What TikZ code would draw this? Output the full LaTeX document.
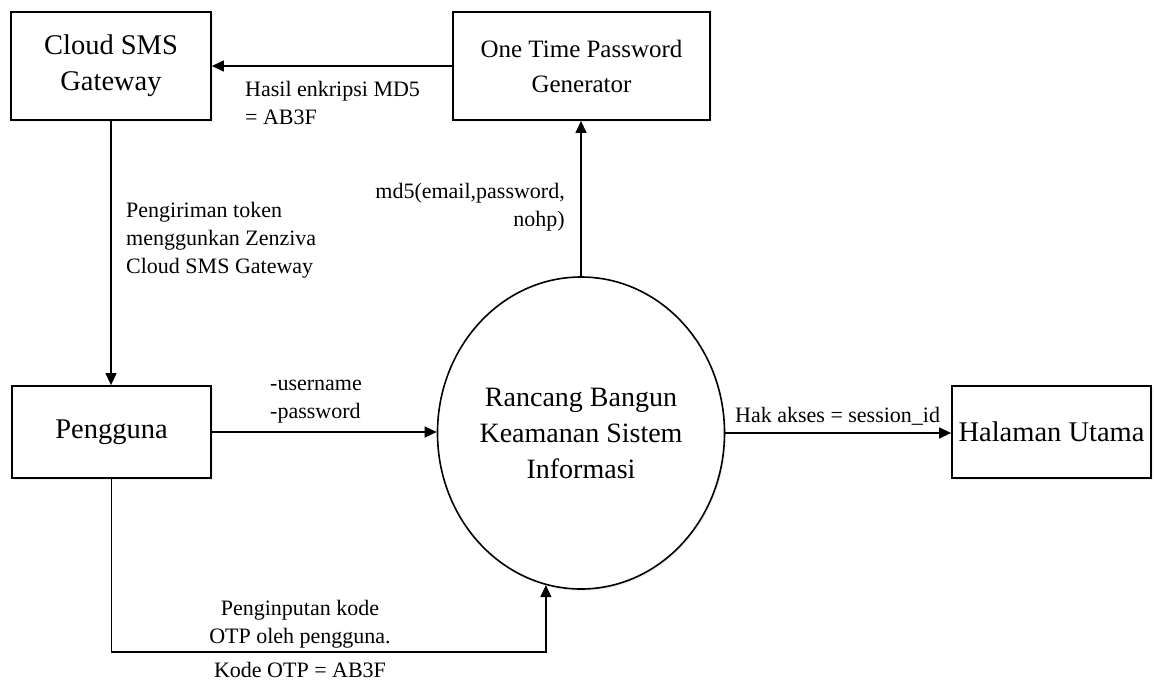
\documentclass[tikz,border=0pt]{standalone}
\usepackage{fontspec}
\setmainfont{Liberation Serif}
\usetikzlibrary{arrows.meta,shapes.geometric,shadows}
\begin{document}
\begin{tikzpicture}[x=1pt,y=-1pt,
  softshadow/.style={drop shadow={opacity=0.12,shadow xshift=1.5pt,shadow yshift=-2pt}},
  box/.style={draw,line width=1.8pt,fill=white,inner sep=0pt,align=center,
    font=\fontsize{28.5}{36}\selectfont,softshadow},
  proc/.style={ellipse,draw,line width=1.6pt,fill=white,inner sep=0pt,align=center,
    font=\fontsize{28}{36}\selectfont,softshadow},
  flow/.style={line width=1.3pt,-{Triangle[length=12pt,width=11pt]}},
  lbl/.style={inner sep=0pt,font=\fontsize{22}{28}\selectfont}
]
\useasboundingbox (0,0) rectangle (1156,689);

% external entities and the central process
\node[box,minimum width=200pt,minimum height=108pt] (cloud) at (111,66) {Cloud SMS\\Gateway};
\node[box,minimum width=257pt,minimum height=108pt,font=\fontsize{25}{35}\selectfont] (otp) at (581.5,66) {One Time Password\\Generator};
\node[box,minimum width=199pt,minimum height=92pt] (peng) at (111.5,432) {Pengguna};
\node[box,minimum width=199pt,minimum height=92pt] (hal) at (1051.5,432) {Halaman Utama};
\node[proc,minimum width=286pt,minimum height=312pt] (sys) at (581,433) {Rancang Bangun\\Keamanan Sistem\\Informasi};

% data flows
\draw[flow] (otp.west) -- (otp.west -| cloud.east);
\draw[flow] (cloud.south) -- (cloud.south |- peng.north);
\draw[flow] (sys.north) -- (sys.north |- otp.south);
\draw[flow] (peng.east) -- (peng.east -| sys.west);
\draw[flow] (sys.east) -- (sys.east -| hal.west);
\coordinate (low) at (0,652);
\draw[flow] (peng.south) |- (sys.257.75 |- low) -- (sys.257.75);

% flow labels
\node[lbl,anchor=north west,align=left] (lhasil) at (245,81) {Hasil enkripsi MD5\\= AB3F};
\node[lbl,anchor=north west,align=left] (lsend) at (126,202) {Pengiriman token\\menggunkan Zenziva\\Cloud SMS Gateway};
\node[lbl,anchor=north east,align=right] (lmd5) at (565,183) {md5(email,password,\\nohp)};
\node[lbl,anchor=north west,align=left] (llogin) at (270,380) {-username\\-password};
\node[lbl,anchor=base west] (lhak) at (735,422) {Hak akses = session\_id};
\node[lbl,anchor=north,align=center] (linput) at (300,600) {Penginputan kode\\OTP oleh pengguna.};
\node[lbl,anchor=base] (lkode) at (300,677) {Kode OTP = AB3F};
\end{tikzpicture}
\end{document}
